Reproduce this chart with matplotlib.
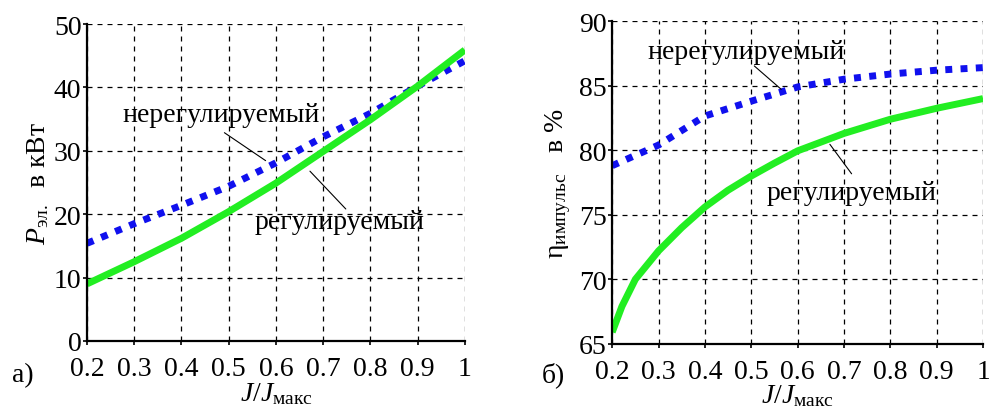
import matplotlib
matplotlib.use("Agg")
import matplotlib.pyplot as plt

plt.rcParams['font.family'] = ['Liberation Serif', 'DejaVu Serif']
plt.rcParams['mathtext.fontset'] = 'custom'
plt.rcParams['mathtext.rm'] = 'Liberation Serif'
plt.rcParams['mathtext.it'] = 'Liberation Serif:italic'

# Relative current J/Jmax
j_p = [0.2, 0.3, 0.4, 0.5, 0.6, 0.7, 0.8, 0.9, 1.0]
# Electrical power, kW
p_regulated = [9.0, 12.5, 16.2, 20.4, 24.9, 29.9, 34.9, 40.2, 45.9]
p_unregulated = [15.4, 18.5, 21.4, 24.4, 28.1, 32.2, 35.9, 40.2, 44.2]

j_eta_reg = [0.2, 0.221, 0.25, 0.3, 0.35, 0.4, 0.45, 0.5, 0.55, 0.6,
             0.7, 0.8, 0.9, 1.0]
eta_regulated = [65.9, 67.9, 70.0, 72.2, 74.0, 75.6, 76.9, 78.0, 79.0, 79.95,
                 81.3, 82.4, 83.25, 84.0]
j_eta_unreg = [0.2, 0.3, 0.4, 0.5, 0.6, 0.7, 0.8, 0.9, 1.0]
eta_unregulated = [78.8, 80.4, 82.65, 83.8, 84.9, 85.5, 85.9, 86.2, 86.4]

x_ticks = [0.2, 0.3, 0.4, 0.5, 0.6, 0.7, 0.8, 0.9, 1.0]
x_ticklabels = ['0.2', '0.3', '0.4', '0.5', '0.6', '0.7', '0.8', '0.9', '1']
p_ticks = [0, 10, 20, 30, 40, 50]
eta_ticks = [65, 70, 75, 80, 85, 90]

label_unreg = 'нерегулируемый'
label_reg = 'регулируемый'

GREEN = '#22ee22'
BLUE = '#1010ee'
FS = 20

fig = plt.figure(figsize=(9.89, 4.10), dpi=100)
ax1 = fig.add_axes([0.088, 0.166, 0.382, 0.773])
ax2 = fig.add_axes([0.619, 0.159, 0.375, 0.787])


def style(ax, yticks):
    ax.set_xlim(0.2, 1.0)
    ax.set_ylim(yticks[0], yticks[-1])
    ax.set_xticks(x_ticks)
    ax.set_xticklabels(x_ticklabels)
    ax.set_yticks(yticks)
    ax.grid(True, color='black', linestyle=(0, (4, 4)), linewidth=0.9)
    for s in ('top', 'right'):
        ax.spines[s].set_visible(False)
    for s in ('left', 'bottom'):
        ax.spines[s].set_linewidth(1.6)
    ax.tick_params(labelsize=FS, direction='out', length=3, width=1.2, pad=1)
    ax.tick_params(axis='x', pad=8)
    ax.set_xlabel(r'$J/J_{\mathrm{макс}}$', fontsize=FS, labelpad=-1)


# Left panel: electrical power
ax1.plot(j_p, p_unregulated, color=BLUE, linestyle=(0, (1, 1.2)), linewidth=5)
ax1.plot(j_p, p_regulated, color=GREEN, linewidth=5, solid_capstyle='butt')
style(ax1, p_ticks)
ax1.set_ylabel(r'$P_{\mathrm{эл.}}$  в кВт', fontsize=FS, labelpad=2)
ax1.text(0.484, 35.8, label_unreg, fontsize=FS, ha='center', va='center')
ax1.annotate('', xy=(0.583, 28.2), xytext=(0.486, 33.1),
             arrowprops=dict(arrowstyle='-', lw=0.8, color='black'))
ax1.text(0.735, 18.9, label_reg, fontsize=FS, ha='center', va='center')
ax1.annotate('', xy=(0.668, 27.1), xytext=(0.752, 20.5),
             arrowprops=dict(arrowstyle='-', lw=0.8, color='black'))
fig.text(0.012, 0.085, 'а)', fontsize=FS, va='center')

# Right panel: efficiency
ax2.plot(j_eta_unreg, eta_unregulated, color=BLUE, linestyle=(0, (1, 1.2)), linewidth=5)
ax2.plot(j_eta_reg, eta_regulated, color=GREEN, linewidth=5, solid_capstyle='butt')
style(ax2, eta_ticks)
ax2.set_ylabel(r'η$_{\mathrm{импульс}}$   в %', fontsize=FS, labelpad=4)
ax2.text(0.489, 87.68, label_unreg, fontsize=FS, ha='center', va='center')
ax2.annotate('', xy=(0.569, 84.58), xytext=(0.502, 86.67),
             arrowprops=dict(arrowstyle='-', lw=0.8, color='black'))
ax2.text(0.717, 76.76, label_reg, fontsize=FS, ha='center', va='center')
ax2.annotate('', xy=(0.666, 80.63), xytext=(0.720, 78.0),
             arrowprops=dict(arrowstyle='-', lw=0.8, color='black'))
fig.text(0.548, 0.085, 'б)', fontsize=FS, va='center')

fig.savefig('out.png', dpi=100)
